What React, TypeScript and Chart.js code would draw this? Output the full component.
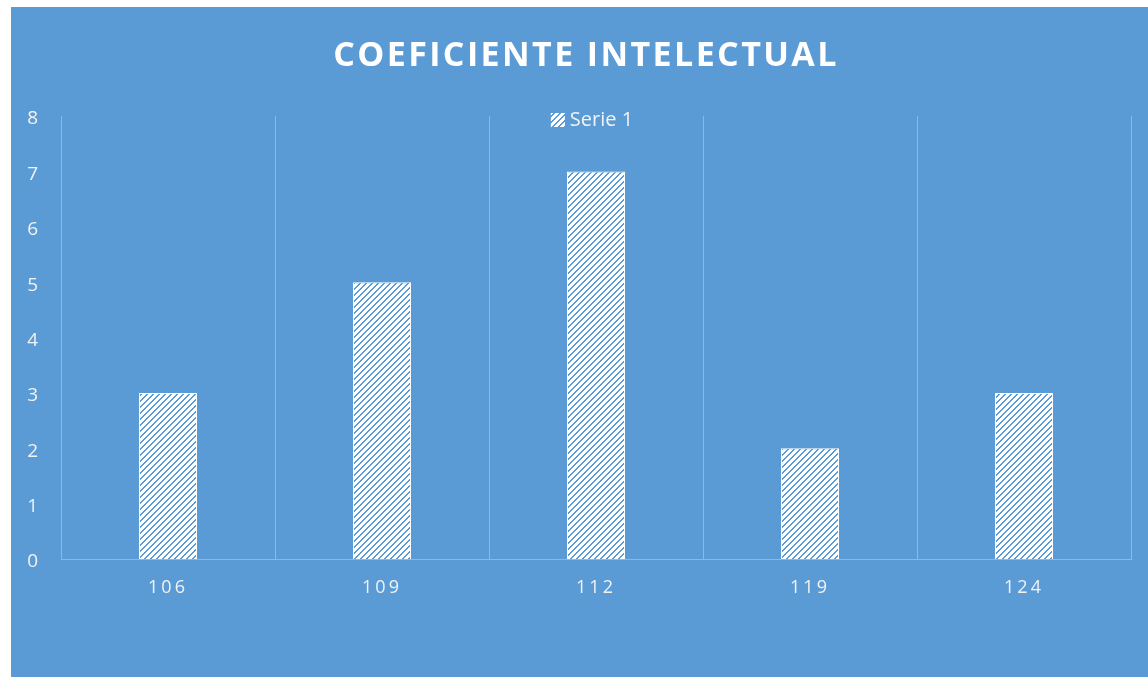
import React, { useEffect, useRef } from "react";
import { Chart, registerables } from "chart.js";

Chart.register(...registerables);

const TITLE = "COEFICIENTE INTELECTUAL";
const CATEGORIES = ["106", "109", "112", "119", "124"];
const SERIES_LABEL = "Serie 1";
const SERIES_VALUES = [3, 5, 7, 2, 3];
const Y_MIN = 0;
const Y_MAX = 8;
const Y_STEP = 1;

const BG = "#5B9BD5";
const GRID = "rgba(255,255,255,0.3)";
const TEXT = "#F2F2F2";
const FONT = "'Open Sans', 'DejaVu Sans', sans-serif";

const W = 1137;
const H = 670;

function makePattern(ctx: CanvasRenderingContext2D): CanvasPattern | string {
  const c = document.createElement("canvas");
  c.width = 6;
  c.height = 6;
  const p = c.getContext("2d");
  if (!p) return "#fff";
  p.fillStyle = "#ffffff";
  p.fillRect(0, 0, 6, 6);
  p.fillStyle = BG;
  for (let y = 0; y < 6; y++) {
    for (let x = 0; x < 6; x++) {
      const m = (x + y) % 6;
      if (m === 0 || m === 1) p.fillRect(x, y, 1, 1);
    }
  }
  return ctx.createPattern(c, "repeat") || "#fff";
}

const spacingPlugin = {
  id: "letterSpacingPatch",
  afterLayout(chart: any) {
    const xs = chart.scales.x;
    if (xs && !xs.__patched) {
      const orig = xs.drawLabels.bind(xs);
      xs.drawLabels = (area: any) => {
        const c = chart.ctx as any;
        c.save();
        c.letterSpacing = "3px";
        orig(area);
        c.letterSpacing = "0px";
        c.restore();
      };
      xs.__patched = true;
    }
    const tb = chart.titleBlock;
    if (tb && !tb.__patched) {
      const origT = tb.draw.bind(tb);
      tb.draw = (...args: any[]) => {
        const c = chart.ctx as any;
        c.save();
        c.translate(15, 0);
        c.letterSpacing = "2.4px";
        origT(...args);
        c.letterSpacing = "0px";
        c.restore();
      };
      tb.__patched = true;
    }
  },
};

const legendPlugin = {
  id: "innerLegend",
  afterDraw(chart: any) {
    const ctx: CanvasRenderingContext2D = chart.ctx;
    const ds = chart.data.datasets[0];
    const area = chart.chartArea;
    ctx.save();
    ctx.font = `20px ${FONT}`;
    const tw = ctx.measureText(ds.label).width;
    const box = 14;
    const gap = 5;
    const total = box + gap + tw;
    const cx = (area.left + area.right) / 2;
    const x0 = cx - total / 2 - 4;
    const yc = area.top + 4;
    ctx.fillStyle = ds.backgroundColor;
    ctx.fillRect(x0, yc - box / 2, box, box);
    ctx.fillStyle = TEXT;
    ctx.textBaseline = "middle";
    ctx.textAlign = "left";
    ctx.fillText(ds.label, x0 + box + gap, yc);
    ctx.restore();
  },
};

export default function App() {
  const ref = useRef<HTMLCanvasElement | null>(null);

  useEffect(() => {
    const canvas = ref.current;
    if (!canvas) return;
    const ctx = canvas.getContext("2d");
    if (!ctx) return;
    const pattern = makePattern(ctx);

    const chart = new Chart(canvas, {
      type: "bar",
      data: {
        labels: CATEGORIES,
        datasets: [
          {
            label: SERIES_LABEL,
            data: SERIES_VALUES,
            backgroundColor: pattern as any,
            borderColor: "#ffffff",
            borderWidth: 1,
            categoryPercentage: 1,
            barPercentage: 0.271,
          },
        ],
      },
      options: {
        responsive: false,
        animation: false,
        devicePixelRatio: 1,
        layout: { padding: { left: 0, right: 17, top: 0, bottom: 0 } },
        plugins: {
          legend: { display: false },
          tooltip: { enabled: false },
          title: {
            display: true,
            text: TITLE,
            color: "#ffffff",
            font: { family: FONT, size: 34, weight: "bold", lineHeight: 1.2 },
            padding: { top: 28.8, bottom: 39.4 },
          },
        },
        scales: {
          x: {
            grid: {
              display: true,
              offset: true,
              color: GRID,
              lineWidth: 1,
              drawTicks: false,
            },
            border: { display: true, color: GRID, width: 1 },
            ticks: {
              color: TEXT,
              font: { family: FONT, size: 18 },
              padding: 18,
            },
            afterFit(scale: any) {
              scale.height = 118;
            },
          },
          y: {
            min: Y_MIN,
            max: Y_MAX,
            grid: { display: false, drawTicks: false },
            border: { display: false },
            ticks: {
              stepSize: Y_STEP,
              color: TEXT,
              font: { family: FONT, size: 19 },
              padding: 23,
              labelOffset: 3,
            },
            afterFit(scale: any) {
              scale.width = 50;
            },
          },
        },
      },
      plugins: [spacingPlugin, legendPlugin],
    });

    return () => chart.destroy();
  }, []);

  return (
    <div
      style={{
        position: "absolute",
        left: 11,
        top: 7,
        width: W,
        height: H,
        background: BG,
      }}
    >
      <canvas ref={ref} width={W} height={H} style={{ width: W, height: H, display: "block" }} />
    </div>
  );
}
